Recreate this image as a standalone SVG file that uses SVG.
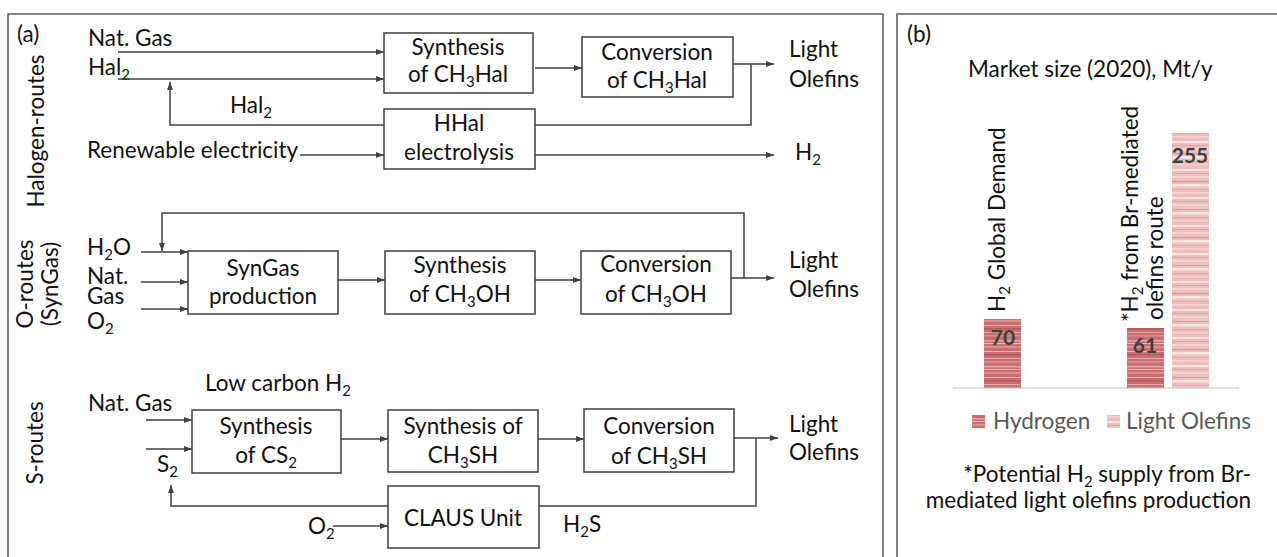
<svg xmlns="http://www.w3.org/2000/svg" width="1277" height="557" viewBox="0 0 1277 557">
<style>
  text { font-family: Lato, "Liberation Sans", sans-serif; font-size: 22.5px; fill: #111; }
  .c { text-anchor: middle; }
  .box { fill: #fff; stroke: #3f3f3f; stroke-width: 1.5; }
  .ln { fill: none; stroke: #404040; stroke-width: 1.5; }
  .panel { fill: #fff; stroke: #595959; stroke-width: 1.5; }
  .val { font-weight: bold; fill: #404040; font-size: 21px; text-anchor: middle; }
  .leg { fill: #595959; }
  .sub { font-size: 15px; }
</style>
<defs>
  <marker id="ah" markerWidth="8" markerHeight="6" refX="8" refY="3" orient="auto" markerUnits="userSpaceOnUse">
    <path d="M0,0 L8,3 L0,6 Z" fill="#404040"/>
  </marker>
  <pattern id="hyd" width="10" height="26" patternUnits="userSpaceOnUse">
    <rect width="10" height="26" fill="#cb6e6f"/>
    <rect y="2" width="10" height="1.5" fill="#e5a8a8"/>
    <rect y="5" width="10" height="1" fill="#ecbdbd"/>
    <rect y="8" width="10" height="2" fill="#d99090"/>
    <rect y="13" width="10" height="1" fill="#e8b2b2"/>
    <rect y="16" width="10" height="1.5" fill="#b85a5a"/>
    <rect y="20" width="10" height="1" fill="#e5a8a8"/>
    <rect y="23" width="10" height="1.5" fill="#da8e8e"/>
  </pattern>
  <pattern id="ole" width="10" height="28" patternUnits="userSpaceOnUse">
    <rect width="10" height="28" fill="#eebebe"/>
    <rect y="1" width="10" height="2" fill="#f7e1e1"/>
    <rect y="5" width="10" height="1" fill="#e4a4a4"/>
    <rect y="8" width="10" height="2" fill="#f5d6d6"/>
    <rect y="13" width="10" height="1" fill="#dd9999"/>
    <rect y="16" width="10" height="2.5" fill="#f8e6e6"/>
    <rect y="21" width="10" height="1" fill="#e4a8a8"/>
    <rect y="24" width="10" height="1.5" fill="#f3d2d2"/>
  </pattern>
</defs>

<rect class="panel" x="8" y="14" width="875" height="560"/>
<rect class="panel" x="897" y="14" width="400" height="560"/>

<g id="labels-a">
  <text x="17" y="42">(a)</text>
  <text transform="translate(44,131) rotate(-90)" class="c">Halogen-routes</text>
  <text transform="translate(33,284) rotate(-90)" class="c">O-routes</text>
  <text transform="translate(58,284) rotate(-90)" class="c">(SynGas)</text>
  <text transform="translate(43,443) rotate(-90)" class="c">S-routes</text>

  <text x="88" y="46">Nat. Gas</text>
  <text x="88" y="75">Hal<tspan class="sub" dy="5">2</tspan></text>
  <text x="230" y="113">Hal<tspan class="sub" dy="5">2</tspan></text>
  <text x="87" y="158">Renewable electricity</text>
  <text x="789" y="57">Light</text>
  <text x="789" y="87">Olefins</text>
  <text x="795" y="160">H<tspan class="sub" dy="5">2</tspan></text>

  <text x="87" y="255">H<tspan class="sub" dy="5">2</tspan><tspan dy="-5">O</tspan></text>
  <text x="87" y="284">Nat.</text>
  <text x="87" y="304">Gas</text>
  <text x="87" y="329">O<tspan class="sub" dy="5">2</tspan></text>
  <text x="789" y="268">Light</text>
  <text x="789" y="297">Olefins</text>

  <text x="205" y="391">Low carbon H<tspan class="sub" dy="5">2</tspan></text>
  <text x="88" y="411">Nat. Gas</text>
  <text x="157" y="472">S<tspan class="sub" dy="5">2</tspan></text>
  <text x="308" y="534">O<tspan class="sub" dy="5">2</tspan></text>
  <text x="563" y="532">H<tspan class="sub" dy="5">2</tspan><tspan dy="-5">S</tspan></text>
  <text x="789" y="432">Light</text>
  <text x="789" y="460">Olefins</text>
</g>

<g id="connectors">
  <path class="ln" d="M118,52 H384" marker-end="url(#ah)"/>
  <path class="ln" d="M118,79 H384" marker-end="url(#ah)"/>
  <path class="ln" d="M384,125 H170 V82" marker-end="url(#ah)"/>
  <path class="ln" d="M300,155 H384" marker-end="url(#ah)"/>
  <path class="ln" d="M535,68 H582" marker-end="url(#ah)"/>
  <path class="ln" d="M733,64 H774" marker-end="url(#ah)"/>
  <path class="ln" d="M535,125 H751 V64"/>
  <path class="ln" d="M535,155 H774" marker-end="url(#ah)"/>

  <path class="ln" d="M744,278 V213 H162 V251" marker-end="url(#ah)"/>
  <path class="ln" d="M141,252 H188" marker-end="url(#ah)"/>
  <path class="ln" d="M141,282 H188" marker-end="url(#ah)"/>
  <path class="ln" d="M141,309 H188" marker-end="url(#ah)"/>
  <path class="ln" d="M338,280 H385" marker-end="url(#ah)"/>
  <path class="ln" d="M535,280 H581" marker-end="url(#ah)"/>
  <path class="ln" d="M731,278 H774" marker-end="url(#ah)"/>

  <path class="ln" d="M146,420 H192" marker-end="url(#ah)"/>
  <path class="ln" d="M146,449 H192" marker-end="url(#ah)"/>
  <path class="ln" d="M341,439 H388" marker-end="url(#ah)"/>
  <path class="ln" d="M538,439 H584" marker-end="url(#ah)"/>
  <path class="ln" d="M734,438 H778" marker-end="url(#ah)"/>
  <path class="ln" d="M539,506 H756 V438"/>
  <path class="ln" d="M388,506 H171 V485" marker-end="url(#ah)"/>
  <path class="ln" d="M333,526 H388" marker-end="url(#ah)"/>
</g>

<g id="syn-hal"><rect class="box" x="384" y="33" width="149" height="60"/>
  <text class="c" x="458" y="55">Synthesis</text>
  <text class="c" x="458" y="82">of CH<tspan class="sub" dy="5">3</tspan><tspan dy="-5">Hal</tspan></text></g>
<g id="conv-hal"><rect class="box" x="582" y="37" width="151" height="60"/>
  <text class="c" x="657" y="60">Conversion</text>
  <text class="c" x="657" y="88">of CH<tspan class="sub" dy="5">3</tspan><tspan dy="-5">Hal</tspan></text></g>
<g id="hhal"><rect class="box" x="384" y="109" width="151" height="60"/>
  <text class="c" x="459" y="131">HHal</text>
  <text class="c" x="459" y="160">electrolysis</text></g>

<g id="syngas"><rect class="box" x="188" y="251" width="150" height="63"/>
  <text class="c" x="263" y="276">SynGas</text>
  <text class="c" x="263" y="304">production</text></g>
<g id="syn-meoh"><rect class="box" x="385" y="251" width="150" height="63"/>
  <text class="c" x="460" y="273">Synthesis</text>
  <text class="c" x="460" y="302">of CH<tspan class="sub" dy="5">3</tspan><tspan dy="-5">OH</tspan></text></g>
<g id="conv-meoh"><rect class="box" x="581" y="251" width="150" height="63"/>
  <text class="c" x="656" y="272">Conversion</text>
  <text class="c" x="656" y="302">of CH<tspan class="sub" dy="5">3</tspan><tspan dy="-5">OH</tspan></text></g>

<g id="syn-cs2"><rect class="box" x="192" y="410" width="149" height="63"/>
  <text class="c" x="266" y="434">Synthesis</text>
  <text class="c" x="266" y="463">of CS<tspan class="sub" dy="5">2</tspan></text></g>
<g id="syn-ch3sh"><rect class="box" x="388" y="410" width="150" height="62"/>
  <text class="c" x="463" y="434">Synthesis of</text>
  <text class="c" x="463" y="463">CH<tspan class="sub" dy="5">3</tspan><tspan dy="-5">SH</tspan></text></g>
<g id="conv-ch3sh"><rect class="box" x="584" y="409" width="150" height="63"/>
  <text class="c" x="659" y="434">Conversion</text>
  <text class="c" x="659" y="464">of CH<tspan class="sub" dy="5">3</tspan><tspan dy="-5">SH</tspan></text></g>
<g id="claus"><rect class="box" x="388" y="486" width="151" height="62"/>
  <text class="c" x="463" y="526">CLAUS Unit</text></g>

<g id="chart-b">
  <text x="907" y="42">(b)</text>
  <text x="968" y="77">Market size (2020), Mt/y</text>
  <line x1="953" y1="388" x2="1239" y2="388" stroke="#d9d9d9" stroke-width="1.5"/>
  <rect x="984" y="319" width="37" height="69" fill="url(#hyd)"/>
  <rect x="1127" y="328" width="37" height="60" fill="url(#hyd)"/>
  <rect x="1172" y="133" width="37" height="255" fill="url(#ole)"/>
  <text class="val" x="1003" y="345">70</text>
  <text class="val" x="1145" y="353">61</text>
  <text class="val" x="1190" y="163">255</text>
  <text transform="translate(1005,312) rotate(-90)">H<tspan class="sub" dy="5">2</tspan><tspan dy="-5"> Global Demand</tspan></text>
  <text transform="translate(1138,322) rotate(-90)">*H<tspan class="sub" dy="5">2</tspan><tspan dy="-5"> from Br-mediated</tspan></text>
  <text transform="translate(1163,320) rotate(-90)">olefins route</text>
  <rect x="972" y="415" width="13" height="13" fill="url(#hyd)"/>
  <text class="leg" x="993" y="429">Hydrogen</text>
  <rect x="1107" y="415" width="13" height="13" fill="url(#ole)"/>
  <text class="leg" x="1126" y="429">Light Olefins</text>
  <text x="1251" y="482" text-anchor="end">*Potential H<tspan class="sub" dy="5">2</tspan><tspan dy="-5"> supply from Br-</tspan></text>
  <text x="1251" y="508" text-anchor="end">mediated light olefins production</text>
</g>
</svg>
